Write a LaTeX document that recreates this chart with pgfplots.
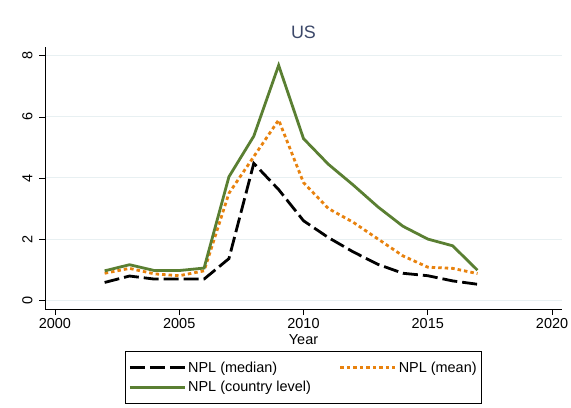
\documentclass[border=0pt]{standalone}
\usepackage{fontspec}
\setmainfont{Liberation Sans}
\usepackage{pgfplots}
\pgfplotsset{compat=1.18}
\definecolor{stgreen}{RGB}{90,127,50}
\definecolor{storange}{RGB}{232,130,14}
\definecolor{stgrid}{RGB}{232,240,242}
\definecolor{sttitle}{RGB}{60,72,105}
\begin{document}
\begin{tikzpicture}
\useasboundingbox (0,0) rectangle (571bp,408bp);
\begin{axis}[
  at={(45bp,99bp)}, anchor=south west,
  scale only axis, width=517bp, height=262bp,
  xmin=1999.6, xmax=2020.4, ymin=-0.29, ymax=8.29,
  axis lines*=left,
  axis line style={line width=0.9bp, black},
  xtick={2000,2005,2010,2015,2020},
  ytick={0,2,4,6,8},
  xticklabel style={/pgf/number format/1000 sep={}},
  /pgf/number format/assume math mode=true,
  tick align=outside, major tick length=6bp,
  tick style={line width=0.8bp, black},
  ticklabel style={font=\fontsize{14.5}{15}\selectfont},
  yticklabel style={rotate=90, anchor=south},
  yticklabel shift=3bp,
  ymajorgrids, grid style={stgrid, line width=1bp},
  xlabel={Year}, xlabel style={font=\fontsize{14.5}{15}\selectfont, yshift=1.5bp},
  title={US}, title style={font=\fontsize{18}{19}\selectfont, text=sttitle, yshift=-1bp},
  legend columns=2,
  legend cell align=left,
  legend style={at={(0.5,-0.2615)}, anchor=center, draw=black, line width=0.8bp,
    font=\fontsize{14.5}{15}\selectfont, inner xsep=3bp, inner ysep=8bp, row sep=4bp,
    /tikz/every even column/.append style={column sep=26bp}},
  legend image code/.code={\draw[#1] (0bp,0bp) -- (55bp,0bp);},
]
\addplot[black, line width=2.8bp, dash pattern=on 15bp off 5bp] coordinates {
(2002,0.58) (2003,0.79) (2004,0.69) (2005,0.69) (2006,0.69) (2007,1.36) (2008,4.48)
(2009,3.62) (2010,2.6) (2011,2.05) (2012,1.58) (2013,1.17) (2014,0.88) (2015,0.8)
(2016,0.63) (2017,0.52)};
\addlegendentry{NPL (median)}
\addplot[storange, line width=2.8bp, dash pattern=on 3.5bp off 3bp] coordinates {
(2002,0.88) (2003,1.04) (2004,0.86) (2005,0.80) (2006,0.96) (2007,3.5) (2008,4.7)
(2009,5.9) (2010,3.85) (2011,3.0) (2012,2.55) (2013,2.0) (2014,1.45) (2015,1.08)
(2016,1.04) (2017,0.87)};
\addlegendentry{NPL (mean)}
\addplot[stgreen, line width=2.8bp] coordinates {
(2002,0.96) (2003,1.16) (2004,0.97) (2005,0.97) (2006,1.05) (2007,4.04) (2008,5.37)
(2009,7.69) (2010,5.29) (2011,4.45) (2012,3.77) (2013,3.05) (2014,2.42) (2015,2.0)
(2016,1.78) (2017,0.98)};
\addlegendentry{NPL (country level)}
\end{axis}
\end{tikzpicture}
\end{document}
